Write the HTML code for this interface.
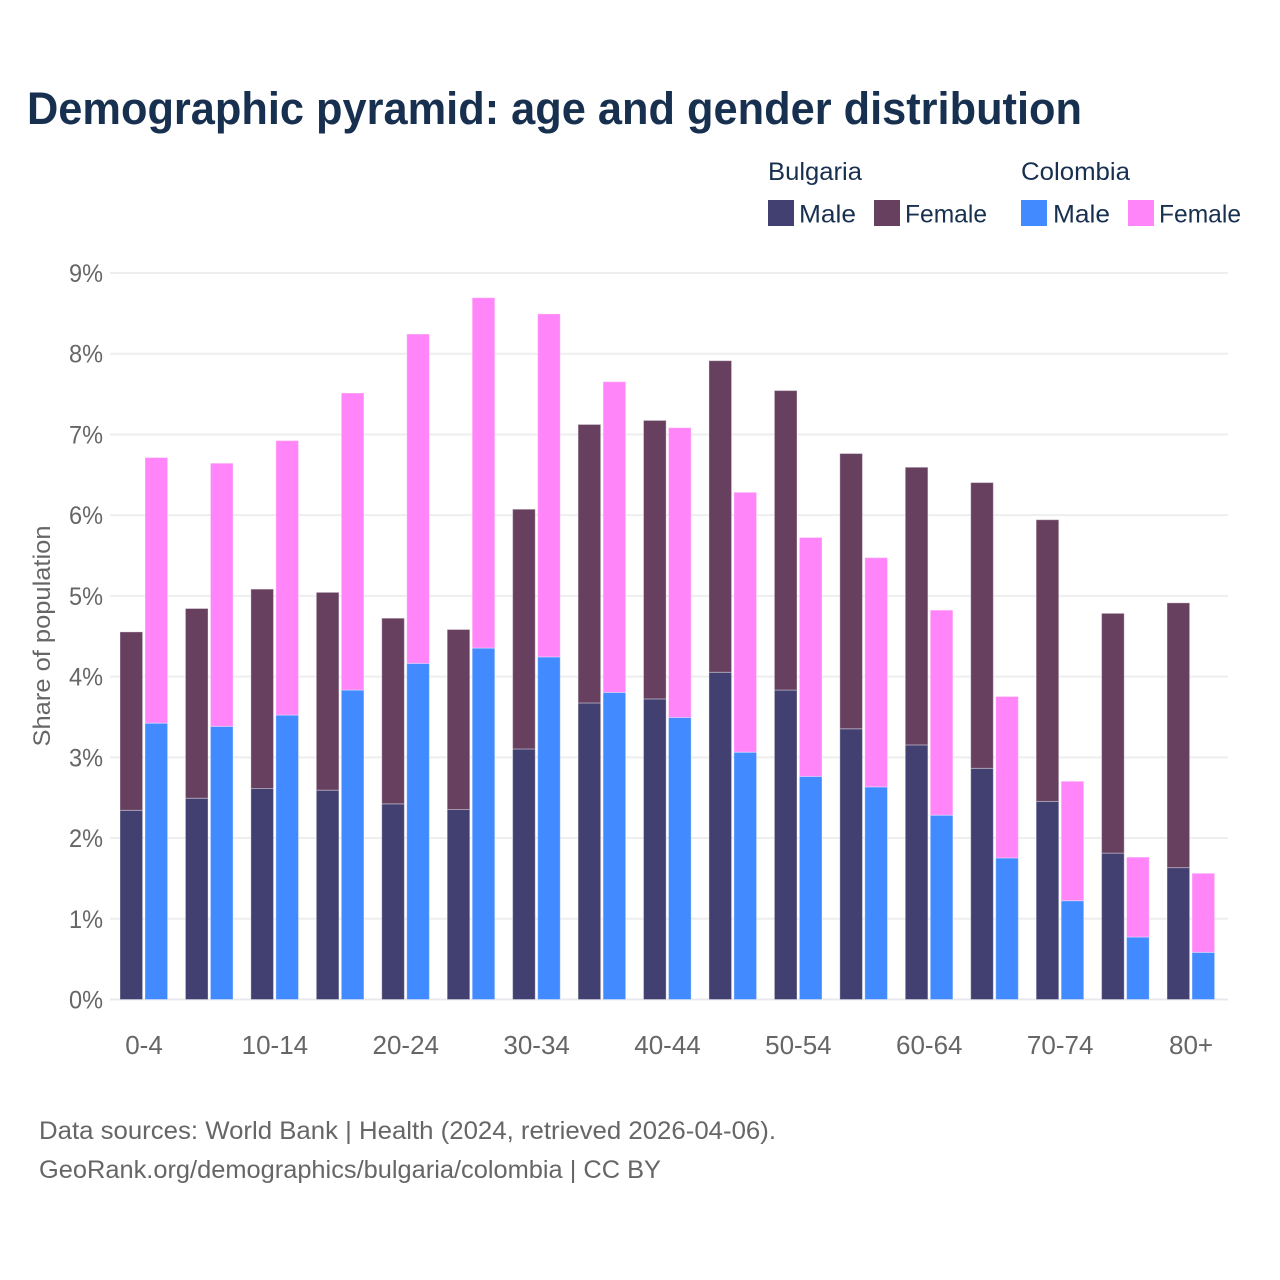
<!DOCTYPE html>
<html lang="en">
<head>
<meta charset="utf-8">
<title>Demographic pyramid: age and gender distribution</title>
<style>
html,body{margin:0;padding:0;background:#fff;width:1280px;height:1280px;overflow:hidden}
svg{display:block}
text{font-family:"Liberation Sans",sans-serif}
</style>
</head>
<body>
<svg id="chart" width="1280" height="1280" viewBox="0 0 1280 1280">
  <rect x="0" y="0" width="1280" height="1280" fill="#ffffff"/>
  <text x="27" y="124" font-size="45" font-weight="700" fill="#18304f" textLength="1055" lengthAdjust="spacingAndGlyphs">Demographic pyramid: age and gender distribution</text>

  <g>
    <text x="768" y="180" font-size="25" fill="#18304f" textLength="94" lengthAdjust="spacingAndGlyphs">Bulgaria</text>
    <text x="1021" y="180" font-size="25" fill="#18304f" textLength="109" lengthAdjust="spacingAndGlyphs">Colombia</text>
    <rect x="768" y="200" width="26" height="26" fill="#414070"/>
    <text x="799" y="222.5" font-size="25" fill="#18304f" textLength="57" lengthAdjust="spacingAndGlyphs">Male</text>
    <rect x="874" y="200" width="26" height="26" fill="#674060"/>
    <text x="905" y="222.5" font-size="25" fill="#18304f" textLength="82" lengthAdjust="spacingAndGlyphs">Female</text>
    <rect x="1021" y="200" width="26" height="26" fill="#428aff"/>
    <text x="1053" y="222.5" font-size="25" fill="#18304f" textLength="57" lengthAdjust="spacingAndGlyphs">Male</text>
    <rect x="1128" y="200" width="26" height="26" fill="#ff85f8"/>
    <text x="1159" y="222.5" font-size="25" fill="#18304f" textLength="82" lengthAdjust="spacingAndGlyphs">Female</text>
  </g>

  <g id="grid"></g>
  <g id="bars"></g>
  <g id="yticks"></g>
  <g id="xticks"></g>

  <text transform="translate(50,636) rotate(-90)" text-anchor="middle" font-size="24" fill="#666666" textLength="221" lengthAdjust="spacingAndGlyphs">Share of population</text>

  <text x="39" y="1139" font-size="25" fill="#666666" textLength="737" lengthAdjust="spacingAndGlyphs">Data sources: World Bank | Health (2024, retrieved 2026-04-06).</text>
  <text x="39" y="1178" font-size="25" fill="#666666" textLength="622" lengthAdjust="spacingAndGlyphs">GeoRank.org/demographics/bulgaria/colombia | CC BY</text>
</svg>
<script>
const ageGroups = ["0-4","5-9","10-14","15-19","20-24","25-29","30-34","35-39","40-44","45-49","50-54","55-59","60-64","65-69","70-74","75-79","80+"];
const xTickLabels = ["0-4","10-14","20-24","30-34","40-44","50-54","60-64","70-74","80+"];
const yTickValues = [0,1,2,3,4,5,6,7,8,9];
const bulgariaMale = [2.35,2.50,2.62,2.60,2.43,2.36,3.11,3.68,3.73,4.06,3.84,3.36,3.16,2.87,2.46,1.82,1.64];
const bulgariaFemale = [2.21,2.35,2.47,2.45,2.30,2.23,2.97,3.45,3.45,3.86,3.71,3.41,3.44,3.54,3.49,2.97,3.28];
const colombiaMale = [3.43,3.39,3.53,3.84,4.17,4.36,4.25,3.81,3.50,3.07,2.77,2.64,2.29,1.76,1.23,0.78,0.59];
const colombiaFemale = [3.29,3.26,3.40,3.68,4.08,4.34,4.25,3.85,3.59,3.22,2.96,2.84,2.54,2.00,1.48,0.99,0.98];

const NS = 'http://www.w3.org/2000/svg';
const yScale = function (v) { return 999.5 - v * 80.72; };
const xScale = function (i) { return 144 + i * 65.44; };
const barWidth = 22.6;

function make(parent, tag, attrs) {
  const el = document.createElementNS(NS, tag);
  for (const k in attrs) el.setAttribute(k, attrs[k]);
  parent.appendChild(el);
  return el;
}

const grid = document.getElementById('grid');
const yticks = document.getElementById('yticks');
yTickValues.forEach(function (v) {
  const line = make(grid, 'line', {x1: 110, x2: 1228, y1: yScale(v), y2: yScale(v), stroke: v === 0 ? '#e8e8ee' : '#eeeeee', 'stroke-width': 2});
  
  
  const t = make(yticks, 'text', {x: 103, y: yScale(v) + 9, 'text-anchor': 'end', 'font-size': 25, fill: '#666666', textLength: 34, lengthAdjust: 'spacingAndGlyphs'});
  t.textContent = v + '%';
  
  
});

const bars = document.getElementById('bars');
function drawStack(i, x, lower, upper, lowerColor, upperColor, country) {
  const y0 = yScale(0), y1 = yScale(lower) + 0.5, y2 = yScale(lower + upper) + 0.5;
  const a = make(bars, 'rect', {x: x, y: y1, width: barWidth, height: y0 - y1, fill: lowerColor, stroke: '#ffffff', 'stroke-opacity': 0.35, 'stroke-width': 1});
  
  
  const b = make(bars, 'rect', {x: x, y: y2, width: barWidth, height: y1 - y2, fill: upperColor, stroke: '#ffffff', 'stroke-opacity': 0.35, 'stroke-width': 1});
  
  
}
ageGroups.forEach(function (g, i) {
  const cx = xScale(i);
  drawStack(i, cx - 24, bulgariaMale[i], bulgariaFemale[i], '#414070', '#674060', 'bulgaria');
  drawStack(i, cx + 1, colombiaMale[i], colombiaFemale[i], '#428aff', '#ff85f8', 'colombia');
});

const xticks = document.getElementById('xticks');
xTickLabels.forEach(function (label) {
  const i = ageGroups.indexOf(label);
  const t = make(xticks, 'text', {x: xScale(i), y: 1054, 'text-anchor': 'middle', 'font-size': 26, fill: '#666666'});
  t.textContent = label;
  
  
});
</script>
</body>
</html>
